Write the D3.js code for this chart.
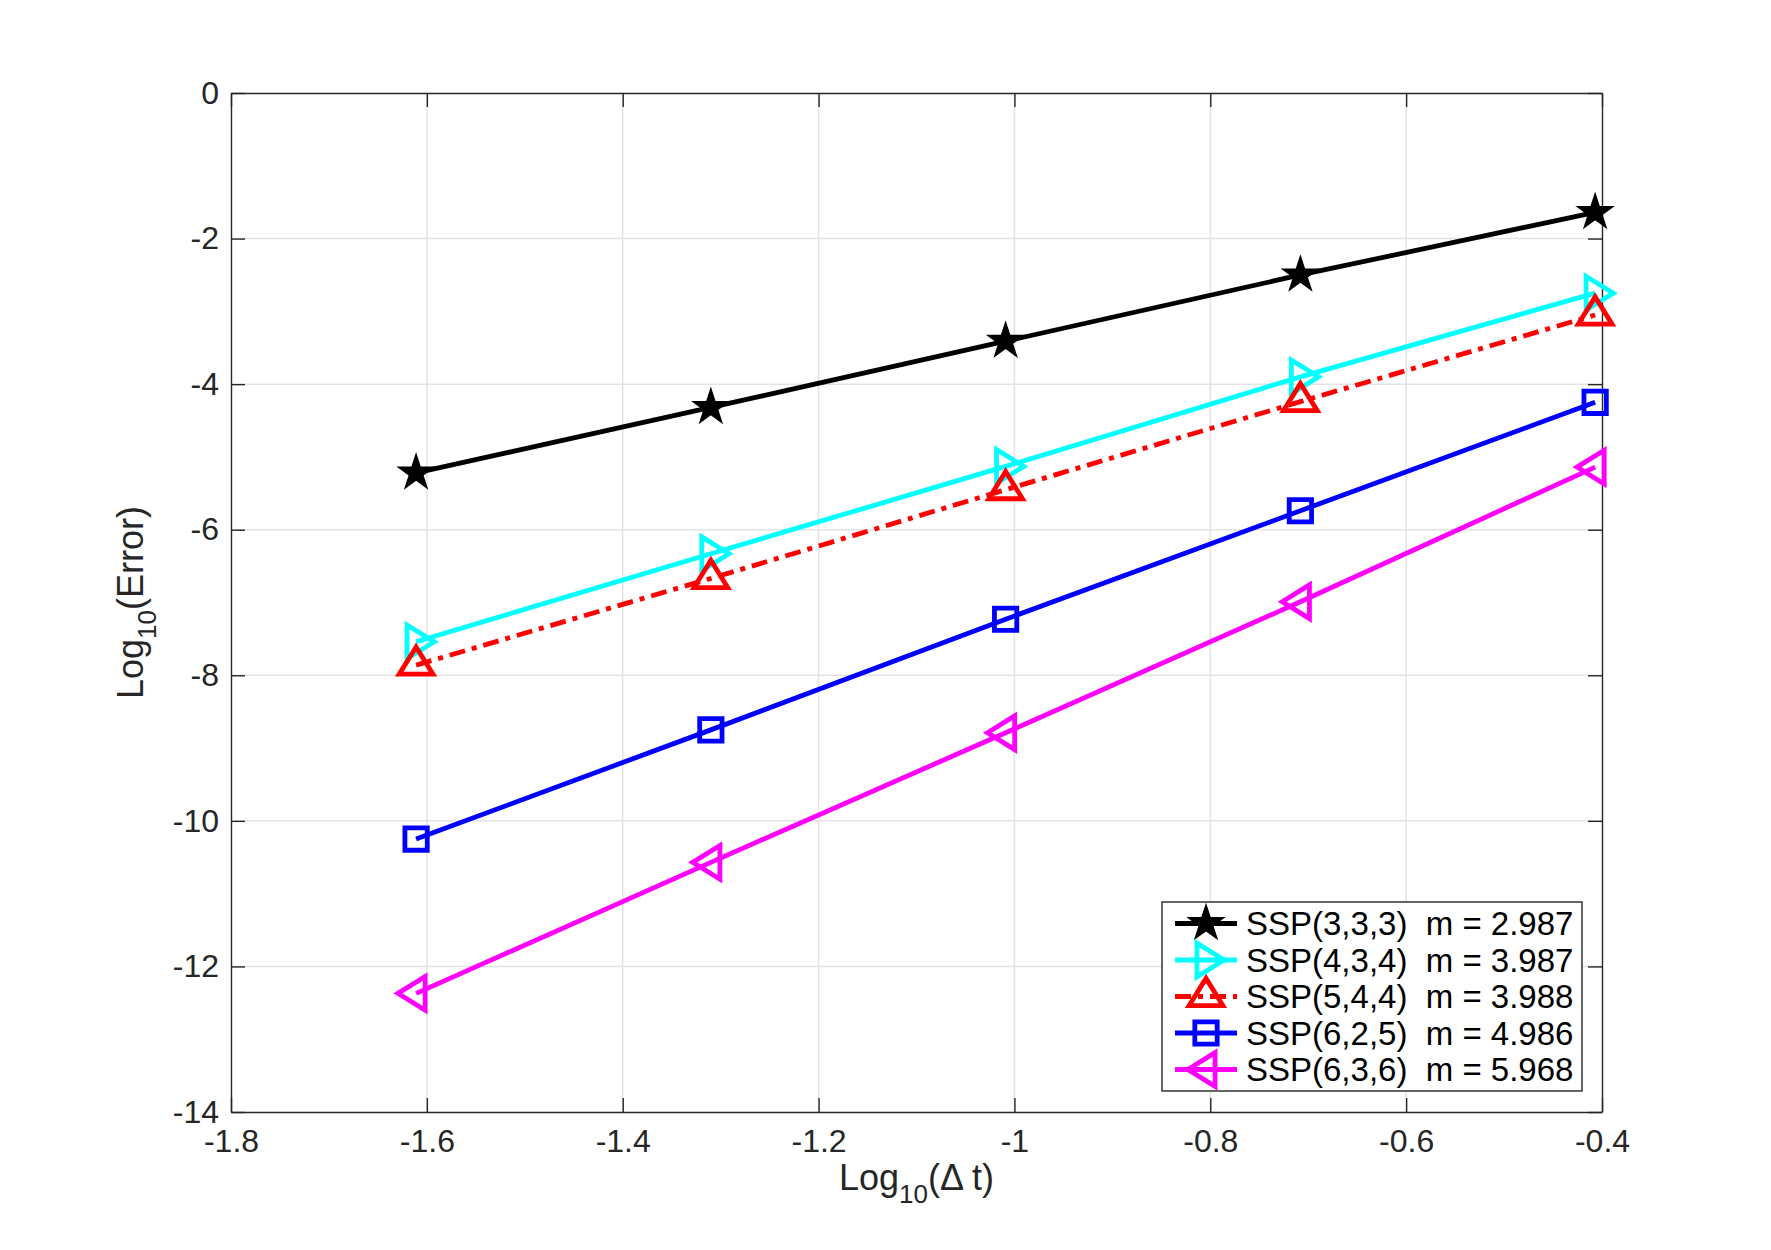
<!DOCTYPE html>
<html>
<head>
<meta charset="utf-8">
<script src="https://cdn.jsdelivr.net/npm/d3@7"></script>
<style>
  body { margin: 0; background: #fff; }
  text { font-family: "Liberation Sans", Arial, Helvetica, sans-serif; }
</style>
</head>
<body>
<svg id="chart"></svg>
<script>
// log10 of the time step
const logDt = [-1.611, -1.310, -1.009, -0.708, -0.407];

// log10 of the error, one array per scheme
const ssp333 = [-5.22, -4.32, -3.41, -2.50, -1.64];
const ssp434 = [-7.54, -6.33, -5.13, -3.90, -2.75];
const ssp544 = [-7.86, -6.67, -5.45, -4.24, -3.05];
const ssp625 = [-10.25, -8.75, -7.23, -5.74, -4.25];
const ssp636 = [-12.37, -10.57, -8.79, -6.99, -5.14];

const seriesNames = ["SSP(3,3,3)", "SSP(4,3,4)", "SSP(5,4,4)", "SSP(6,2,5)", "SSP(6,3,6)"];
const slopes = ["2.987", "3.987", "3.988", "4.986", "5.968"];

const xTicks = [-1.8, -1.6, -1.4, -1.2, -1, -0.8, -0.6, -0.4];
const xTickLabels = ["-1.8", "-1.6", "-1.4", "-1.2", "-1", "-0.8", "-0.6", "-0.4"];
const yTicks = [0, -2, -4, -6, -8, -10, -12, -14];
const yTickLabels = ["0", "-2", "-4", "-6", "-8", "-10", "-12", "-14"];

const width = 1771;
const height = 1250;
const margin = { top: 93, right: 169, bottom: 138, left: 231 };
const innerW = width - margin.left - margin.right;
const innerH = height - margin.top - margin.bottom;
const axisColor = "#262626";

const svg = d3.select("#chart").attr("width", width).attr("height", height);
svg.append("rect").attr("width", width).attr("height", height).attr("fill", "#fff");

const x = d3.scaleLinear().domain([-1.8, -0.4]).range([0, innerW]);
const y = d3.scaleLinear().domain([-14, 0]).range([innerH, 0]);

const g = svg.append("g").attr("transform", `translate(${margin.left},${margin.top})`);

// Grid
g.append("g")
  .selectAll("line")
  .data(xTicks.slice(1, -1))
  .enter()
  .append("line")
  .attr("x1", d => x(d)).attr("x2", d => x(d))
  .attr("y1", 0).attr("y2", innerH)
  .attr("stroke", "#e3e3e3").attr("stroke-width", 1.5);
g.append("g")
  .selectAll("line")
  .data(yTicks.slice(1, -1))
  .enter()
  .append("line")
  .attr("y1", d => y(d)).attr("y2", d => y(d))
  .attr("x1", 0).attr("x2", innerW)
  .attr("stroke", "#e3e3e3").attr("stroke-width", 1.5);

// Axes: inward ticks on all four sides (box on)
const tickLen = 14;
const xAxisBottom = d3.axisBottom(x).tickValues(xTicks).tickSizeInner(-tickLen).tickSizeOuter(0)
  .tickFormat((d, i) => xTickLabels[i]).tickPadding(17);
const xAxisTop = d3.axisTop(x).tickValues(xTicks).tickSizeInner(-tickLen).tickSizeOuter(0).tickFormat("");
const yAxisLeft = d3.axisLeft(y).tickValues(yTicks).tickSizeInner(-tickLen).tickSizeOuter(0)
  .tickFormat((d, i) => yTickLabels[i]).tickPadding(12);
const yAxisRight = d3.axisRight(y).tickValues(yTicks).tickSizeInner(-tickLen).tickSizeOuter(0).tickFormat("");

function styleAxis(sel) {
  sel.select(".domain").attr("stroke", axisColor).attr("stroke-width", 1.4);
  sel.selectAll(".tick line").attr("stroke", axisColor).attr("stroke-width", 1.4);
  sel.selectAll(".tick text")
    .attr("fill", axisColor)
    .style("font-size", "32px")
    .style("font-family", '"Liberation Sans", Arial, sans-serif');
}

g.append("g").attr("transform", `translate(0,${innerH})`).call(xAxisBottom).call(styleAxis);
g.append("g").call(xAxisTop).call(styleAxis);
g.append("g").call(yAxisLeft).call(styleAxis);
g.append("g").attr("transform", `translate(${innerW},0)`).call(yAxisRight).call(styleAxis);

// Marker shapes
function triangleType(angle) {
  // isosceles triangle centred on its centroid, pointing "up" before rotation
  return {
    draw(ctx, size) {
      const s = Math.sqrt(size);
      const hw = s * 0.62, h = s * 1.0;
      const pts = [[0, -2 * h / 3], [hw, h / 3], [-hw, h / 3]].map(([px, py]) => {
        const c = Math.cos(angle), sn = Math.sin(angle);
        return [px * c - py * sn, px * sn + py * c];
      });
      ctx.moveTo(pts[0][0], pts[0][1]);
      ctx.lineTo(pts[1][0], pts[1][1]);
      ctx.lineTo(pts[2][0], pts[2][1]);
      ctx.closePath();
    }
  };
}
const squareType = {
  draw(ctx, size) {
    const r = Math.sqrt(size) / 2;
    ctx.rect(-r, -r, 2 * r, 2 * r);
  }
};

const series = [
  { name: seriesNames[0], m: slopes[0], values: ssp333, color: "#000000", dash: null,
    symbol: d3.symbol().type(d3.symbolStar).size(380), fill: true },
  { name: seriesNames[1], m: slopes[1], values: ssp434, color: "#00ffff", dash: null,
    symbol: d3.symbol().type(triangleType(Math.PI / 2)).size(740), fill: false },
  { name: seriesNames[2], m: slopes[2], values: ssp544, color: "#ff0000", dash: "16,7,5,7",
    symbol: d3.symbol().type(triangleType(0)).size(740), fill: false },
  { name: seriesNames[3], m: slopes[3], values: ssp625, color: "#0000ff", dash: null,
    symbol: d3.symbol().type(squareType).size(500), fill: false },
  { name: seriesNames[4], m: slopes[4], values: ssp636, color: "#ff00ff", dash: null,
    symbol: d3.symbol().type(triangleType(-Math.PI / 2)).size(740), fill: false }
];

const line = d3.line().x(d => x(d[0])).y(d => y(d[1]));
const lineW = 4.8;

function drawMarker(sel, s) {
  sel.attr("d", s.symbol())
    .attr("fill", s.fill ? s.color : "none")
    .attr("stroke", s.color)
    .attr("stroke-width", s.fill ? 1.5 : lineW)
    .attr("stroke-linejoin", "miter");
}

series.forEach(s => {
  const pts = logDt.map((d, i) => [d, s.values[i]]);
  g.append("path")
    .datum(pts)
    .attr("d", line)
    .attr("fill", "none")
    .attr("stroke", s.color)
    .attr("stroke-width", lineW)
    .attr("stroke-dasharray", s.dash);
  g.append("g")
    .selectAll("path")
    .data(pts)
    .enter()
    .append("path")
    .attr("transform", d => `translate(${x(d[0])},${y(d[1])})`)
    .call(drawMarker, s);
});

// Legend
const legend = svg.append("g").attr("transform", "translate(1162,902)");
legend.append("rect")
  .attr("width", 420).attr("height", 189)
  .attr("fill", "#fff").attr("stroke", axisColor).attr("stroke-width", 1.4);
const rowH = 36.5;
const rows = legend.selectAll("g.row")
  .data(series)
  .enter()
  .append("g")
  .attr("class", "row")
  .attr("transform", (d, i) => `translate(0,${21.5 + i * rowH})`);
rows.append("line")
  .attr("x1", 13).attr("x2", 75).attr("y1", 0).attr("y2", 0)
  .attr("stroke", d => d.color).attr("stroke-width", lineW)
  .attr("stroke-dasharray", d => d.dash);
rows.each(function (d) {
  d3.select(this).append("path").attr("transform", "translate(44,0)").call(drawMarker, d);
});
rows.append("text")
  .attr("x", 84).attr("y", 11.5)
  .attr("fill", "#000")
  .style("font-size", "33px")
  .style("white-space", "pre")
  .attr("xml:space", "preserve")
  .text(d => `${d.name}  m = ${d.m}`);

// Axis labels
const xl = svg.append("text")
  .attr("x", margin.left + innerW / 2).attr("y", 1190)
  .attr("text-anchor", "middle").attr("fill", axisColor).style("font-size", "36px")
  .style("white-space", "pre").attr("xml:space", "preserve");
xl.append("tspan").text("Log");
xl.append("tspan").attr("dy", 13).style("font-size", "26px").text("10");
xl.append("tspan").attr("dy", -13).text("(\u0394 t)");

const yl = svg.append("text")
  .attr("transform", `translate(143,${margin.top + innerH / 2}) rotate(-90)`)
  .attr("text-anchor", "middle").attr("fill", axisColor).style("font-size", "36px");
yl.append("tspan").text("Log");
yl.append("tspan").attr("dy", 13).style("font-size", "26px").text("10");
yl.append("tspan").attr("dy", -13).text("(Error)");
</script>
</body>
</html>
